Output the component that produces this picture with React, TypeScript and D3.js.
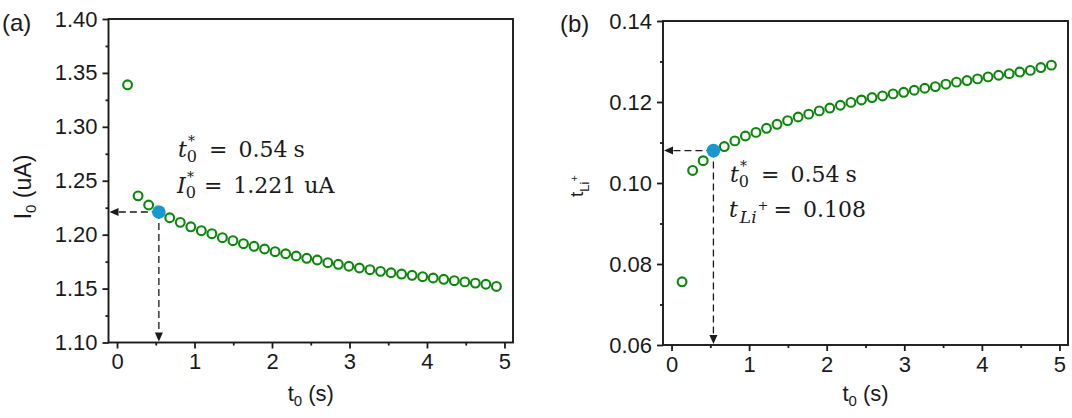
import React, { useEffect, useRef } from 'react';
import * as d3 from 'd3';

// t0 sampling times (s)
const timeS = [
  0.136, 0.272, 0.408, 0.544, 0.68, 0.816, 0.952, 1.088, 1.224, 1.36, 1.496, 1.632,
  1.768, 1.904, 2.04, 2.176, 2.312, 2.448, 2.584, 2.72, 2.856, 2.992, 3.128, 3.264,
  3.4, 3.536, 3.672, 3.808, 3.944, 4.08, 4.216, 4.352, 4.488, 4.624, 4.76, 4.896,
];

// (a) I0 (uA)
const currentUA = [
  1.339, 1.236, 1.2275, 1.221, 1.2157, 1.2114, 1.2073, 1.2037, 1.2009, 1.1972, 1.1944, 1.1916,
  1.1892, 1.1867, 1.1842, 1.1823, 1.1802, 1.1781, 1.1765, 1.174, 1.1725, 1.1707, 1.1691, 1.1675,
  1.166, 1.1647, 1.1635, 1.1623, 1.161, 1.1598, 1.1586, 1.1573, 1.1562, 1.1551, 1.154, 1.152,
];

// (b) t_Li+
const transference = [
  0.0756, 0.1031, 0.1055, 0.1078, 0.109, 0.1104, 0.1116, 0.1125, 0.1135, 0.1145, 0.1154, 0.1163,
  0.117, 0.1178, 0.1185, 0.1192, 0.1199, 0.1205, 0.1211, 0.1215, 0.122, 0.1224, 0.1229, 0.1234,
  0.1238, 0.1244, 0.1249, 0.1253, 0.1257, 0.1262, 0.1266, 0.127, 0.1274, 0.1278, 0.1285, 0.1291,
];

const xTicks = [0, 1, 2, 3, 4, 5];
const xMinor = [0.5, 1.5, 2.5, 3.5, 4.5];
const currentTicks = [1.1, 1.15, 1.2, 1.25, 1.3, 1.35, 1.4];
const currentMinor = [1.125, 1.175, 1.225, 1.275, 1.325, 1.375];
const transTicks = [0.06, 0.08, 0.1, 0.12, 0.14];
const transMinor = [0.07, 0.09, 0.11, 0.13];

const optT = 0.54;
const optI = 1.221;
const optTLi = 0.108;

const GREEN = '#0b870b';
const BLUE = '#1b97cf';
const INK = '#1a1a1a';
const SANS = '"Liberation Sans", Arial, sans-serif';
const SERIF = '"DejaVu Serif", serif';

type Sel = d3.Selection<SVGGElement, unknown, null, undefined>;

interface PanelOpts {
  box: { left: number; right: number; top: number; bottom: number };
  yDomain: [number, number];
  yTicks: number[];
  yMinor: number[];
  values: number[];
  optY: number;
}

function drawPanel(g: Sel, o: PanelOpts) {
  const { left, right, top, bottom } = o.box;
  const x = d3.scaleLinear().domain([-0.11, 5.11]).range([left, right]);
  const y = d3.scaleLinear().domain(o.yDomain).range([bottom, top]);

  // x axis
  const xa = g.append('g').attr('transform', `translate(0,${bottom})`)
    .call(d3.axisBottom(x).tickValues(xTicks).tickSize(6).tickPadding(5).tickFormat(d3.format('d')));
  const xm = g.append('g').attr('transform', `translate(0,${bottom})`)
    .call(d3.axisBottom(x).tickValues(xMinor).tickSize(3).tickFormat(() => ''));
  // y axis
  const ya = g.append('g').attr('transform', `translate(${left},0)`)
    .call(d3.axisLeft(y).tickValues(o.yTicks).tickSize(6).tickPadding(5).tickFormat(d3.format('.2f')));
  const ym = g.append('g').attr('transform', `translate(${left},0)`)
    .call(d3.axisLeft(y).tickValues(o.yMinor).tickSize(3).tickFormat(() => ''));

  [xa, xm, ya, ym].forEach(a => {
    a.select('.domain').remove();
    a.selectAll('line').attr('stroke', INK).attr('stroke-width', 1.8);
    a.selectAll('text').attr('font-family', SANS).attr('font-size', 22).attr('fill', INK);
  });

  // frame
  g.append('rect')
    .attr('x', left).attr('y', top)
    .attr('width', right - left).attr('height', bottom - top)
    .attr('fill', 'none').attr('stroke', INK).attr('stroke-width', 1.9);

  // dashed guides with arrows
  const px = x(optT);
  const py = y(o.optY);
  const head = 9;
  g.append('line')
    .attr('x1', px).attr('y1', py).attr('x2', left + 1 + head).attr('y2', py)
    .attr('stroke', INK).attr('stroke-width', 1.3).attr('stroke-dasharray', '7,4');
  g.append('path')
    .attr('d', `M${left + 1},${py}L${left + 1 + head},${py - 4}L${left + 1 + head},${py + 4}Z`)
    .attr('fill', INK);
  g.append('line')
    .attr('x1', px).attr('y1', py).attr('x2', px).attr('y2', bottom - 1 - head)
    .attr('stroke', INK).attr('stroke-width', 1.3).attr('stroke-dasharray', '7,4');
  g.append('path')
    .attr('d', `M${px},${bottom - 1}L${px - 4},${bottom - 1 - head}L${px + 4},${bottom - 1 - head}Z`)
    .attr('fill', INK);

  // data
  g.append('g').selectAll('circle')
    .data(timeS.map((t, i) => [t, o.values[i]] as [number, number]))
    .enter().append('circle')
    .attr('cx', d => x(d[0]))
    .attr('cy', d => y(d[1]))
    .attr('r', 4.4)
    .attr('fill', 'none')
    .attr('stroke', GREEN)
    .attr('stroke-width', 2.1);

  g.append('circle')
    .attr('cx', px).attr('cy', py).attr('r', 6.8)
    .attr('fill', BLUE);

  // x title
  const xt = g.append('text')
    .attr('x', (left + right) / 2).attr('y', 401)
    .attr('text-anchor', 'middle')
    .attr('font-family', SANS).attr('font-size', 22).attr('fill', INK)
    .style('white-space', 'pre');
  xt.append('tspan').text('t');
  xt.append('tspan').attr('font-size', 15).attr('dy', 5).text('0');
  xt.append('tspan').attr('dy', -5).text(' (s)');

  return { x, y };
}

function mathText(g: Sel, x: number, y: number) {
  return g.append('text')
    .attr('x', x).attr('y', y)
    .attr('font-family', SERIF).attr('font-size', 22).attr('fill', INK)
    .style('white-space', 'pre');
}

// italic symbol with stacked subscript 0 and superscript *
function starred(t: d3.Selection<SVGTextElement, unknown, null, undefined>, sym: string) {
  t.append('tspan').attr('font-style', 'italic').text(sym);
  t.append('tspan').attr('font-size', 16).attr('dy', 5).text('0');
  t.append('tspan').attr('font-size', 14).attr('dx', -9).attr('dy', -16).text('*');
}

const App: React.FC = () => {
  const svgRef = useRef<SVGSVGElement>(null);

  useEffect(() => {
    if (!svgRef.current) return;
    const svg = d3.select(svgRef.current);
    svg.selectAll('*').remove();

    // ---------- (a) ----------
    const ga = svg.append('g') as unknown as Sel;
    drawPanel(ga, {
      box: { left: 108.5, right: 513, top: 19, bottom: 342.5 },
      yDomain: [1.1, 1.4],
      yTicks: currentTicks,
      yMinor: currentMinor,
      values: currentUA,
      optY: optI,
    });

    ga.append('text')
      .attr('x', 2).attr('y', 31)
      .attr('font-family', SANS).attr('font-size', 24).attr('fill', INK)
      .text('(a)');

    const yta = ga.append('text')
      .attr('transform', 'translate(31,187) rotate(-90)')
      .attr('text-anchor', 'middle')
      .attr('font-family', SANS).attr('font-size', 23).attr('fill', INK)
      .style('white-space', 'pre');
    yta.append('tspan').text('I');
    yta.append('tspan').attr('font-size', 15).attr('dy', 5).text('0');
    yta.append('tspan').attr('dy', -5).text(' (uA)');

    const a1 = mathText(ga, 178, 157);
    starred(a1, 't');
    a1.append('tspan').attr('dy', 11).attr('dx', 14).text('=');
    a1.append('tspan').attr('dx', 11).text('0.54');
    a1.append('tspan').attr('dx', 6).text('s');

    const a2 = mathText(ga, 177, 193);
    starred(a2, 'I');
    a2.append('tspan').attr('dy', 11).attr('dx', 10).text('=');
    a2.append('tspan').attr('dx', 11).text('1.221');
    a2.append('tspan').attr('dx', 8).text('uA');

    // ---------- (b) ----------
    const gb = svg.append('g') as unknown as Sel;
    drawPanel(gb, {
      box: { left: 663, right: 1068, top: 21, bottom: 345 },
      yDomain: [0.06, 0.14],
      yTicks: transTicks,
      yMinor: transMinor,
      values: transference,
      optY: optTLi,
    });

    gb.append('text')
      .attr('x', 560).attr('y', 32)
      .attr('font-family', SANS).attr('font-size', 24).attr('fill', INK)
      .text('(b)');

    const ytb = gb.append('text')
      .attr('transform', 'translate(583,186) rotate(-90)')
      .attr('text-anchor', 'middle')
      .attr('font-family', SANS).attr('font-size', 19).attr('fill', INK)
      .style('white-space', 'pre');
    ytb.append('tspan').text('t');
    ytb.append('tspan').attr('font-size', 13).attr('dy', 6).text('Li');
    ytb.append('tspan').attr('font-size', 11).attr('dy', -11).text('+');

    const b1 = mathText(gb, 730, 182);
    starred(b1, 't');
    b1.append('tspan').attr('dy', 11).attr('dx', 14).text('=');
    b1.append('tspan').attr('dx', 11).text('0.54');
    b1.append('tspan').attr('dx', 6).text('s');

    const b2 = mathText(gb, 729, 217);
    b2.append('tspan').attr('font-style', 'italic').text('t');
    b2.append('tspan').attr('font-style', 'italic').attr('font-size', 17).attr('dx', 2).attr('dy', 6).text('Li');
    b2.append('tspan').attr('font-size', 13).attr('dx', 1).attr('dy', -13).text('+');
    b2.append('tspan').attr('dy', 7).attr('dx', 5).text('=');
    b2.append('tspan').attr('dx', 11).text('0.108');
  }, []);

  return (
    <svg
      ref={svgRef}
      width={1072}
      height={418}
      style={{ position: 'absolute', left: 0, top: 0, background: '#fff' }}
    />
  );
};

export default App;
